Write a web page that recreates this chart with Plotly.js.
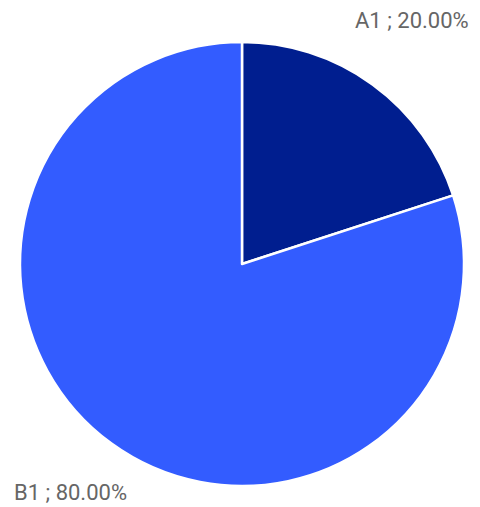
<!DOCTYPE html>
<html>
<head>
<meta charset="utf-8">
<script src="https://cdn.plot.ly/plotly-3.0.1.min.js"></script>
<style>html,body{margin:0;padding:0;background:#fff;}#chart{width:480px;height:507px;}</style>
</head>
<body>
<div id="chart"></div>
<script>
const labels = ["A1", "B1"];
const values = [20, 80];
const colors = ["#001E8F", "#335CFF"];

const total = values.reduce((a, b) => a + b, 0);
const labelText = labels.map((l, i) => l + " ; " + (values[i] / total * 100).toFixed(2) + "%");

const W = 480, H = 507;
const m = {l: 20, r: 16, t: 42, b: 21};
const pw = W - m.l - m.r, ph = H - m.t - m.b;
const px = x => (x - m.l) / pw;
const py = y => (H - m.b - y) / ph;

const data = [{
  type: "pie",
  labels: labels,
  values: values,
  sort: false,
  direction: "clockwise",
  rotation: 0,
  textinfo: "none",
  hoverinfo: "label+percent",
  marker: {colors: colors, line: {color: "#ffffff", width: 2.5}},
  showlegend: false
}];

const layout = {
  width: W, height: H,
  margin: m,
  paper_bgcolor: "#ffffff",
  font: {family: "Roboto, sans-serif", color: "#666666"},
  annotations: [
    {text: labelText[0], xref: "paper", yref: "paper", x: px(471), y: py(21), xanchor: "right", yanchor: "middle", showarrow: false, font: {size: 22, color: "#666666", family: "Roboto"}},
    {text: labelText[1], xref: "paper", yref: "paper", x: px(12), y: py(492), xanchor: "left", yanchor: "middle", showarrow: false, font: {size: 22, color: "#666666", family: "Roboto"}}
  ]
};

Plotly.newPlot("chart", data, layout, {displayModeBar: false, staticPlot: true});
</script>
</body>
</html>
